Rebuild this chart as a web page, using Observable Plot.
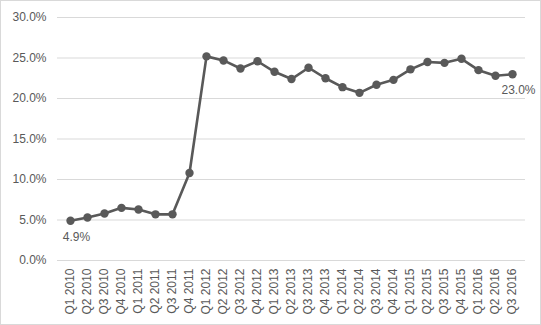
<!DOCTYPE html>
<html><head><meta charset="utf-8">
<script src="https://cdn.jsdelivr.net/npm/d3@7"></script>
<script src="https://cdn.jsdelivr.net/npm/@observablehq/plot@0.6"></script>
<style>
body{margin:0;background:#fff;}
#chart svg{outline:1px solid #d9d9d9;outline-offset:-1px;}
</style>
</head><body><div id="chart"></div>
<script>
const quarters = ["Q1 2010","Q2 2010","Q3 2010","Q4 2010","Q1 2011","Q2 2011","Q3 2011","Q4 2011","Q1 2012","Q2 2012","Q3 2012","Q4 2012","Q1 2013","Q2 2013","Q3 2013","Q4 2013","Q1 2014","Q2 2014","Q3 2014","Q4 2014","Q1 2015","Q2 2015","Q3 2015","Q4 2015","Q1 2016","Q2 2016","Q3 2016"];
const values = [4.9,5.3,5.8,6.5,6.3,5.7,5.7,10.8,25.2,24.7,23.7,24.6,23.3,22.4,23.8,22.5,21.4,20.7,21.7,22.3,23.6,24.5,24.4,24.9,23.5,22.8,23.0];
const yTicks = [0,5,10,15,20,25,30];
const labelled = [0, 26];

const data = quarters.map((q,i)=>({q, v: values[i]}));
const fmt = d => d.toFixed(1) + "%";

const chart = Plot.plot({
  width: 541, height: 325,
  marginLeft: 57, marginRight: 16, marginTop: 17, marginBottom: 65,
  style: {fontFamily: "'Liberation Sans', Arial, sans-serif", fontSize: "12px", color: "#595959", background: "#fff"},
  x: {type: "point", domain: quarters, padding: 0.5, label: null},
  y: {domain: [0,30], ticks: yTicks, label: null},
  marks: [
    Plot.ruleY(yTicks, {stroke: "#d9d9d9", strokeWidth: 1}),
    Plot.axisY({ticks: yTicks, tickFormat: fmt, tickSize: 0, tickPadding: 11, fill: "#595959", fontSize: 12, label: null}),
    Plot.axisX({tickRotate: -90, tickSize: 0, tickPadding: 8, fill: "#595959", fontSize: 12, label: null}),
    Plot.line(data, {x: "q", y: "v", stroke: "#595959", strokeWidth: 2.6}),
    Plot.dot(data, {x: "q", y: "v", r: 4.2, fill: "#595959", stroke: "none"}),
    Plot.text(labelled.map(i=>data[i]), {x: "q", y: "v", text: d => fmt(d.v), dy: 16, dx: 6, fill: "#595959", fontSize: 12})
  ]
});
document.getElementById("chart").appendChild(chart);
</script>
</body></html>
